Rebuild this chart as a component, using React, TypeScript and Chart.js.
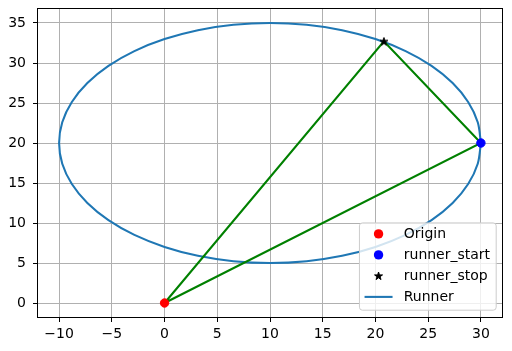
import React, { useEffect, useRef } from "react";
import { Chart, registerables } from "chart.js";

Chart.register(...registerables);

// ---- data ----
const originX = [0];
const originY = [0];
const startX = [30];
const startY = [20];
const stopX = [20.8];
const stopY = [32.7];
const pathX = [0, 20.8, 30, 0];
const pathY = [0, 32.7, 20, 0];
const runnerX = [
  30, 29.7, 28.79, 27.32, 25.32, 22.86, 20.0, 16.84, 13.47, 10, 6.53, 3.16, 0.0, -2.86, -5.32, -7.32, -8.79, -9.7,
  -10, -9.7, -8.79, -7.32, -5.32, -2.86, 0.0, 3.16, 6.53, 10, 13.47, 16.84, 20.0, 22.86, 25.32, 27.32, 28.79, 29.7, 30,
];
const runnerY = [
  20, 22.6, 25.13, 27.5, 29.64, 31.49, 32.99, 34.1, 34.77, 35, 34.77, 34.1, 32.99, 31.49, 29.64, 27.5, 25.13, 22.6,
  20, 17.4, 14.87, 12.5, 10.36, 8.51, 7.01, 5.9, 5.23, 5, 5.23, 5.9, 7.01, 8.51, 10.36, 12.5, 14.87, 17.4, 20,
];
const xTicks = [-10, -5, 0, 5, 10, 15, 20, 25, 30];
const yTicks = [0, 5, 10, 15, 20, 25, 30, 35];
const legendLabels = ["Origin", "runner_start", "runner_stop", "Runner"];

const FONT = "DejaVu Sans";
const BLUE = "#1f77b4";
const LW = 2.08;

function zip(xs: number[], ys: number[]) {
  return xs.map((x, i) => ({ x, y: ys[i] }));
}

function drawStar(ctx: CanvasRenderingContext2D, cx: number, cy: number, R: number) {
  const r = R * 0.381966;
  ctx.beginPath();
  for (let i = 0; i < 10; i++) {
    const rad = i % 2 === 0 ? R : r;
    const a = -Math.PI / 2 + (i * Math.PI) / 5;
    const px = cx + rad * Math.cos(a);
    const py = cy + rad * Math.sin(a);
    if (i === 0) ctx.moveTo(px, py);
    else ctx.lineTo(px, py);
  }
  ctx.closePath();
  ctx.fillStyle = "#000";
  ctx.fill();
  ctx.lineWidth = 1;
  ctx.strokeStyle = "#000";
  ctx.lineJoin = "miter";
  ctx.stroke();
}

function makeStarImage() {
  const c = document.createElement("canvas");
  c.width = 12;
  c.height = 12;
  const ctx = c.getContext("2d")!;
  drawStar(ctx, 6, 6.3, 4.2);
  return c;
}

const framePlugin = {
  id: "frameAndLegend",
  afterDraw(chart: any) {
    const { ctx, chartArea } = chart;
    ctx.save();
    // spines
    ctx.strokeStyle = "#000";
    ctx.lineWidth = 1;
    const l = Math.round(chartArea.left) - 0.5;
    const t = Math.round(chartArea.top) - 0.5;
    const r = Math.round(chartArea.right) + 0.5;
    const b = Math.round(chartArea.bottom) + 0.5;
    ctx.strokeRect(l, t, r - l, b - t);

    // legend
    const fs = 14;
    ctx.font = `${fs}px "${FONT}"`;
    let maxW = 0;
    legendLabels.forEach((s) => (maxW = Math.max(maxW, ctx.measureText(s).width)));
    const pad = 5.6;
    const handle = 28;
    const gap = 11.2;
    const rowH = 21;
    const boxW = pad + handle + gap + maxW + pad;
    const boxH = 87.3;
    const boxR = chartArea.right - 6.3;
    const boxB = chartArea.bottom - 7.3;
    const bx = boxR - boxW;
    const by = boxB - boxH;
    ctx.beginPath();
    (ctx as any).roundRect(bx + 0.5, by + 0.5, boxW, boxH, 3);
    ctx.fillStyle = "rgba(255,255,255,0.8)";
    ctx.fill();
    ctx.strokeStyle = "#cccccc";
    ctx.lineWidth = 1;
    ctx.stroke();

    const mx = bx + pad + handle / 2;
    const tx = bx + pad + handle + gap;
    const rowY = (i: number) => by + 11.5 + i * rowH;
    ctx.beginPath();
    ctx.arc(mx, rowY(0), 4.7, 0, Math.PI * 2);
    ctx.fillStyle = "red";
    ctx.fill();
    ctx.beginPath();
    ctx.arc(mx, rowY(1), 4.7, 0, Math.PI * 2);
    ctx.fillStyle = "blue";
    ctx.fill();
    drawStar(ctx, mx, rowY(2) + 0.3, 4.2);
    ctx.beginPath();
    ctx.moveTo(bx + pad, rowY(3));
    ctx.lineTo(bx + pad + handle, rowY(3));
    ctx.strokeStyle = BLUE;
    ctx.lineWidth = LW;
    ctx.stroke();

    ctx.fillStyle = "#000";
    ctx.textBaseline = "middle";
    ctx.textAlign = "left";
    legendLabels.forEach((s, i) => ctx.fillText(s, tx, rowY(i) + 0.5));
    ctx.restore();
  },
};

function fmt(v: number) {
  return v < 0 ? "\u2212" + Math.abs(v) : String(v);
}

export default function App() {
  const ref = useRef<HTMLCanvasElement | null>(null);
  useEffect(() => {
    if (!ref.current) return;
    const star = makeStarImage();
    const chart = new Chart(ref.current, {
      type: "scatter",
      data: {
        datasets: [
          {
            label: "Origin",
            data: zip(originX, originY),
            pointRadius: 4.2,
            pointBackgroundColor: "red",
            pointBorderColor: "red",
            pointBorderWidth: 1,
            showLine: false,
          },
          {
            label: "runner_start",
            data: zip(startX, startY),
            pointRadius: 4.2,
            pointBackgroundColor: "blue",
            pointBorderColor: "blue",
            pointBorderWidth: 1,
            showLine: false,
          },
          {
            label: "runner_stop",
            data: zip(stopX, stopY),
            pointStyle: star as any,
            pointRadius: 6,
            showLine: false,
          },
          {
            label: "path",
            data: zip(pathX, pathY),
            showLine: true,
            borderColor: "#008000",
            borderWidth: LW,
            pointRadius: 0,
            tension: 0,
          },
          {
            label: "Runner",
            data: zip(runnerX, runnerY),
            showLine: true,
            borderColor: BLUE,
            borderWidth: LW,
            pointRadius: 0,
            tension: 0.33,
          },
        ],
      },
      options: {
        animation: false,
        responsive: false,
        events: [],
        layout: { padding: { top: 9, right: 10, left: 0, bottom: 0 } },
        plugins: { legend: { display: false }, tooltip: { enabled: false } },
        scales: {
          x: {
            type: "linear",
            min: -12,
            max: 32,
            afterBuildTicks: (s: any) => {
              s.ticks = xTicks.map((v) => ({ value: v }));
            },
            afterFit: (s: any) => {
              s.height = 34;
              s.paddingLeft = 0;
              s.paddingRight = 0;
            },
            border: { display: false },
            grid: { color: "#b0b0b0", lineWidth: 1, tickColor: "#000", tickLength: 5, drawTicks: true },
            ticks: {
              color: "#000",
              font: { family: FONT, size: 14 },
              padding: 4,
              maxRotation: 0,
              autoSkip: false,
              callback: (v: any) => fmt(Number(v)),
            },
          },
          y: {
            type: "linear",
            min: -1.75,
            max: 36.75,
            afterBuildTicks: (s: any) => {
              s.ticks = yTicks.map((v) => ({ value: v }));
            },
            afterFit: (s: any) => {
              s.width = 38;
              s.paddingTop = 0;
              s.paddingBottom = 0;
            },
            border: { display: false },
            grid: { color: "#b0b0b0", lineWidth: 1, tickColor: "#000", tickLength: 5, drawTicks: true },
            ticks: {
              color: "#000",
              font: { family: FONT, size: 14 },
              padding: 7,
              autoSkip: false,
              callback: (v: any) => fmt(Number(v)),
            },
          },
        },
      },
      plugins: [framePlugin],
    });
    return () => chart.destroy();
  }, []);
  return (
    <div style={{ position: "fixed", left: 0, top: 0, width: 512, height: 351, background: "#fff" }}>
      <canvas ref={ref} width={512} height={351} />
    </div>
  );
}
